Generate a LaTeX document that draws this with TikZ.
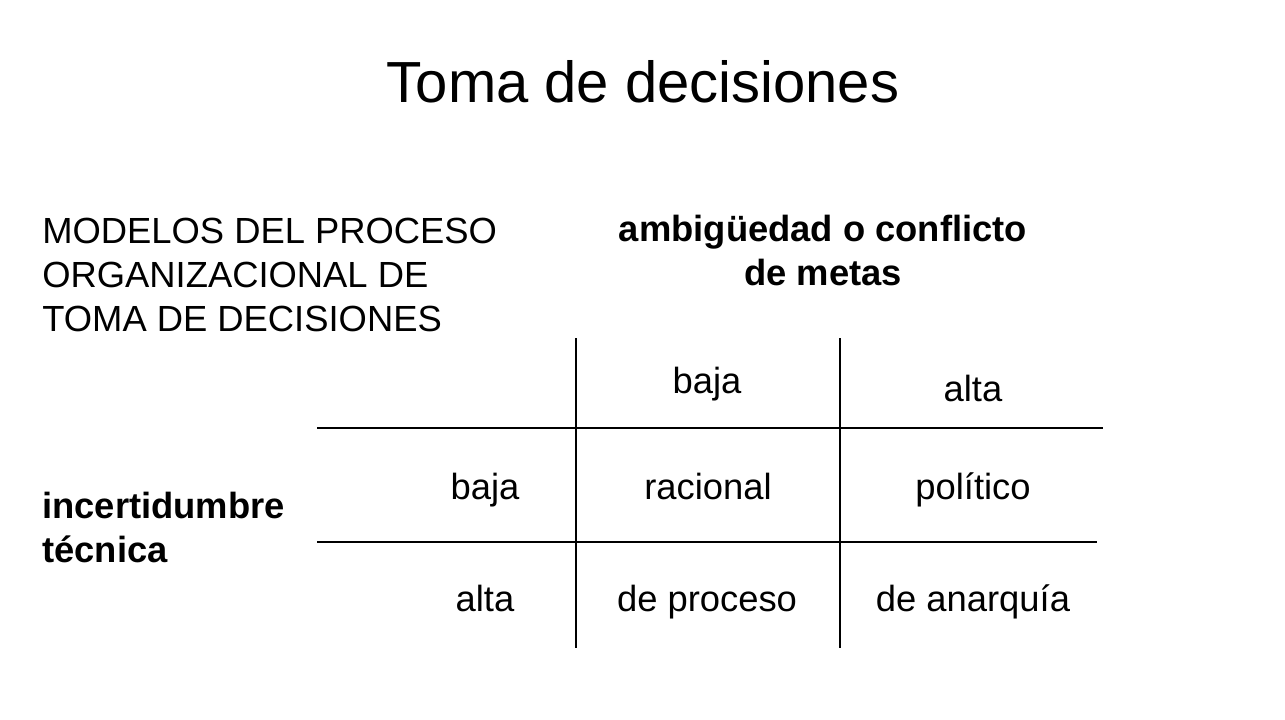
\documentclass[tikz,border=0pt]{standalone}
\usepackage{fontspec}
\setmainfont{Liberation Sans}
\usetikzlibrary{positioning}
\tikzset{%
  titlebox/.style = {anchor=base,inner sep=0pt,font=\fontsize{33}{40}\selectfont},
  txt/.style = {anchor=base,inner sep=0pt,font=\fontsize{20.7}{25}\selectfont},
  headtxt/.style = {txt,font=\fontsize{20.7}{25}\selectfont\bfseries},
  grid/.style = {draw,line width=0.6pt}
}
\begin{document}
\begin{tikzpicture}[x=0.02cm,y=-0.02cm]
        \useasboundingbox[fill=white] (0,0) rectangle (1285,720);
        % title
        \node[titlebox] (title) at (643,102) {Toma de decisiones};
        % left block
        \node[txt,anchor=base west] (mod1) at (42,243) {MODELOS DEL PROCESO};
        \node[txt,anchor=base west] (mod2) at (42,287) {ORGANIZACIONAL DE};
        \node[txt,anchor=base west] (mod3) at (42,331) {TOMA DE DECISIONES};
        \node[headtxt,anchor=base west] (inc1) at (42,518) {incertidumbre};
        \node[headtxt,anchor=base west] (inc2) at (42,562) {técnica};
        % column header
        \node[headtxt] (amb1) at (823,241) {ambigüedad o conflicto};
        \node[headtxt] (amb2) at (823,285) {de metas};
        % grid lines
        \coordinate (v1t) at (576,338); \coordinate (v1b) at (576,648);
        \coordinate (v2t) at (840,338); \coordinate (v2b) at (840,648);
        \coordinate (h1l) at (317,428); \coordinate (h1r) at (1103,428);
        \coordinate (h2l) at (317,542); \coordinate (h2r) at (1097,542);
        \draw[grid] (v1t) -- (v1b);
        \draw[grid] (v2t) -- (v2b);
        \draw[grid] (h1l) -- (h1r);
        \draw[grid] (h2l) -- (h2r);
        % cells
        \node[txt] (cbaja) at (707,393) {baja};
        \node[txt] (calta) at (973,401) {alta};
        \node[txt] (rbaja) at (485,499) {baja};
        \node[txt] (racional) at (708,499) {racional};
        \node[txt] (politico) at (973,499) {político};
        \node[txt] (ralta) at (485,611) {alta};
        \node[txt] (proceso) at (707,611) {de proceso};
        \node[txt] (anarquia) at (973,611) {de anarquía};
    \end{tikzpicture}
\end{document}
